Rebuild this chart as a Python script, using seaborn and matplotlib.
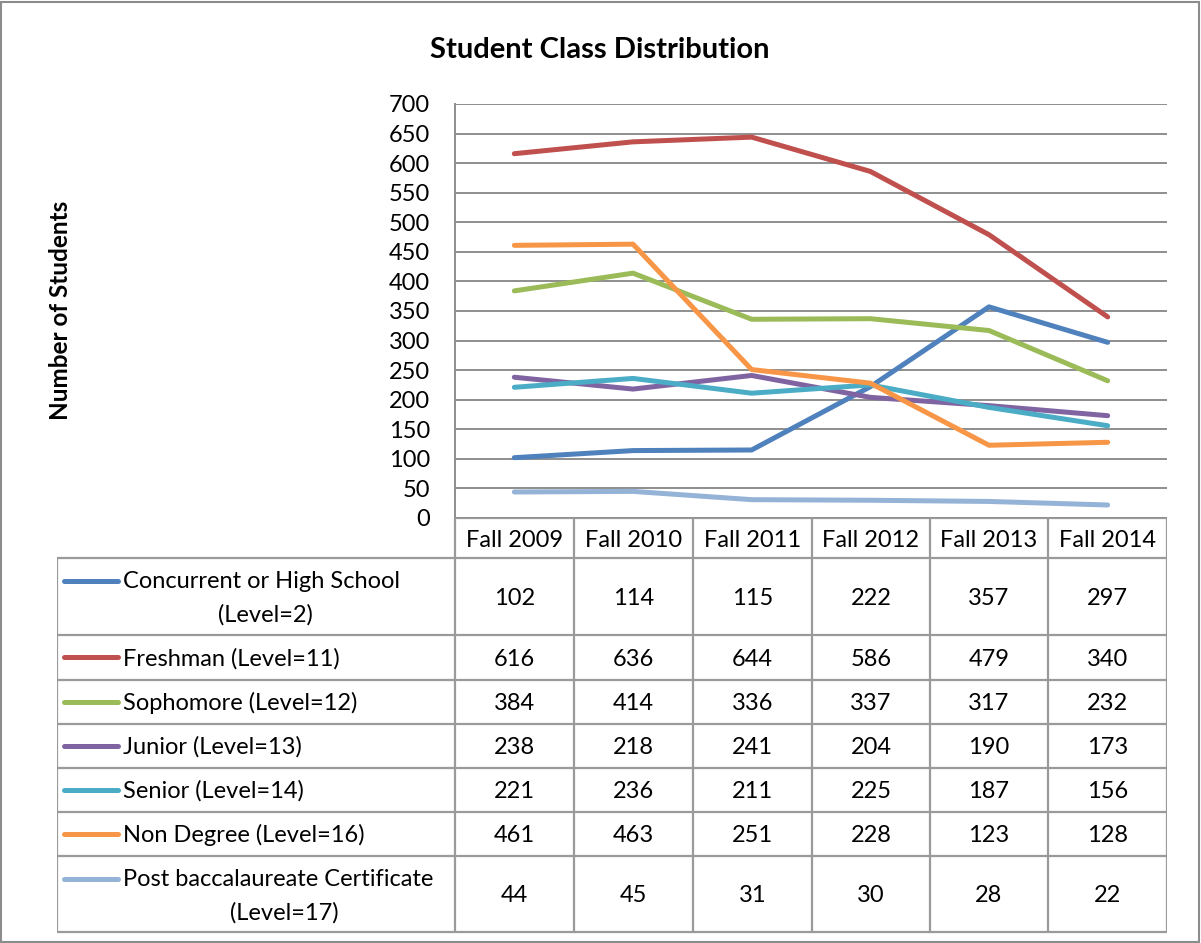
import pandas as pd
import seaborn as sns
import matplotlib
import matplotlib.pyplot as plt

matplotlib.use("Agg")

terms = ["Fall 2009", "Fall 2010", "Fall 2011", "Fall 2012", "Fall 2013", "Fall 2014"]
series_names = [
    "Concurrent or High School (Level=2)",
    "Freshman (Level=11)",
    "Sophomore (Level=12)",
    "Junior (Level=13)",
    "Senior (Level=14)",
    "Non Degree (Level=16)",
    "Post baccalaureate Certificate (Level=17)",
]
# legend labels as shown in the data table (wrapped)
table_labels = [
    "Concurrent or High School\n(Level=2)",
    "Freshman (Level=11)",
    "Sophomore (Level=12)",
    "Junior (Level=13)",
    "Senior (Level=14)",
    "Non Degree (Level=16)",
    "Post baccalaureate Certificate\n(Level=17)",
]
concurrent = [102, 114, 115, 222, 357, 297]
freshman = [616, 636, 644, 586, 479, 340]
sophomore = [384, 414, 336, 337, 317, 232]
junior = [238, 218, 241, 204, 190, 173]
senior = [221, 236, 211, 225, 187, 156]
non_degree = [461, 463, 251, 228, 123, 128]
post_bacc = [44, 45, 31, 30, 28, 22]
colors = ["#4F81BD", "#C0504D", "#9BBB59", "#8064A2", "#4BACC6", "#F79646", "#95B3D7"]

all_values = [concurrent, freshman, sophomore, junior, senior, non_degree, post_bacc]
rows = []
for name, vals in zip(series_names, all_values):
    for i, v in enumerate(vals):
        rows.append({"term": i, "series": name, "students": v})
df = pd.DataFrame(rows)

plt.rcParams["font.family"] = ["Lato", "DejaVu Sans"]

W, H = 1201, 943
fig = plt.figure(figsize=(W / 100, H / 100), dpi=100)

def px_axes(x0, y0, x1, y1):
    return fig.add_axes([x0 / W, 1 - y1 / H, (x1 - x0) / W, (y1 - y0) / H])

# outer border
fig.add_artist(plt.Rectangle((1 / W, 1 / H), (W - 3) / W, (H - 3) / H, transform=fig.transFigure,
                             fill=False, edgecolor="#8c8c8c", lw=1.5))

fs = 17
grid_c = "#8e8e8e"
ax = px_axes(455, 104, 1167, 518)
sns.lineplot(data=df, x="term", y="students", hue="series", palette=colors,
             hue_order=series_names, linewidth=3.6, legend=False, ax=ax,
             solid_capstyle="round")
ax.set_xlim(-0.5, 5.5)
ax.set_ylim(0, 700)
ax.set_yticks(range(0, 701, 50))
ax.set_xticks([])
ax.set_xlabel("")
ax.set_ylabel("")
ax.grid(axis="y", color=grid_c, lw=1.4)
ax.set_axisbelow(True)
for s in ["top", "right", "bottom"]:
    ax.spines[s].set_visible(False)
ax.spines["left"].set_color(grid_c)
ax.spines["left"].set_linewidth(1.4)
ax.tick_params(axis="y", length=0, pad=18, labelsize=fs)

fig.text(600 / W, 1 - 50 / H, "Student Class Distribution", ha="center", va="center",
         fontsize=21, fontweight="bold")
fig.text(60 / W, 1 - 310 / H, "Number of Students", ha="center", va="center",
         rotation=90, fontsize=17.5, fontweight="bold")

# data table below the plot
tx = px_axes(57, 518, 1167, 934)
tx.set_xlim(57, 1167)
tx.set_ylim(934, 518)
tx.axis("off")
col_edges = [455, 574, 693, 812, 930, 1048, 1167]
row_edges = [558, 635, 680, 724, 768, 812, 856, 932]
lc = "#9a9a9a"
tx.vlines(col_edges, 518, row_edges[-1], color=lc, lw=1.6)
tx.hlines(518, 455, 1167, color=lc, lw=1.6)
tx.hlines(row_edges, 57, 1167, color=lc, lw=1.6)
tx.vlines(57, row_edges[0], row_edges[-1], color=lc, lw=1.6)
for j, t in enumerate(terms):
    xc = (col_edges[j] + col_edges[j + 1]) / 2
    tx.text(xc, 541, t, ha="center", va="center", fontsize=fs)
for i, (lab, vals, c) in enumerate(zip(table_labels, all_values, colors)):
    y0, y1 = row_edges[i], row_edges[i + 1]
    yc = (y0 + y1) / 2
    two = "\n" in lab
    ly = y0 + 23 if two else yc
    tx.plot([64, 118], [ly, ly], color=c, lw=3.6, solid_capstyle="round")
    if two:
        first, second = lab.split("\n")
        tx.text(123, ly + 1, first, ha="left", va="center", fontsize=fs)
        w_first = {0: 407, 6: 445}[i]
        tx.text((123 + w_first) / 2, ly + 34, second, ha="center", va="center", fontsize=fs)
    else:
        tx.text(123, yc + 1, lab, ha="left", va="center", fontsize=fs)
    for j, v in enumerate(vals):
        xc = (col_edges[j] + col_edges[j + 1]) / 2
        tx.text(xc, yc + 2, str(v), ha="center", va="center", fontsize=fs)

fig.savefig("out.png", dpi=100)
